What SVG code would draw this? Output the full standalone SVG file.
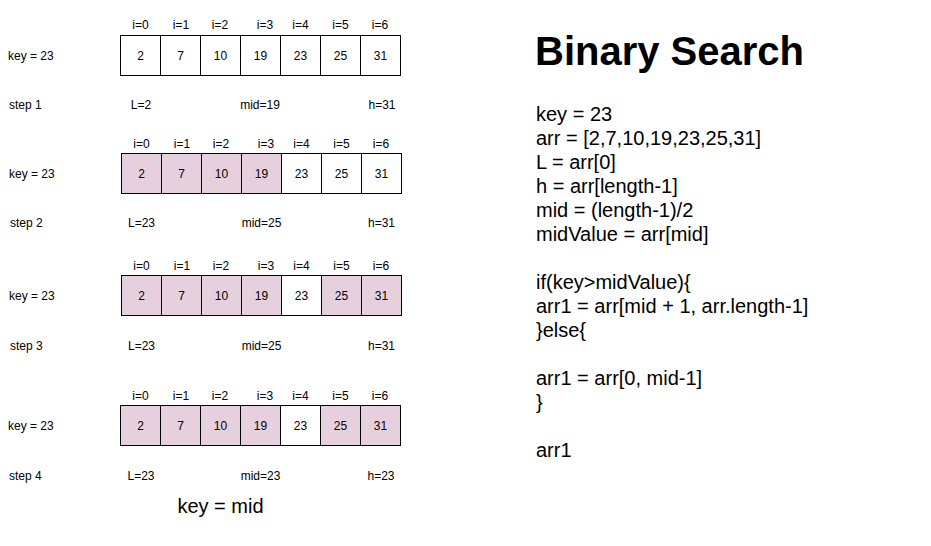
<svg xmlns="http://www.w3.org/2000/svg" width="931" height="546" viewBox="0 0 931 546">
<style>
text{font-family:"Liberation Sans",Arial,Helvetica,sans-serif;fill:#000}
.s{font-size:12px}
.c{text-anchor:middle}
.cell{fill:#fff;stroke:#000;stroke-width:1}
.hl{fill:#e6d0de}
.code{font-size:20px}
.title{font-size:40px;font-weight:bold}
</style>
<rect width="931" height="546" fill="#fff"/>

<g id="array1">
<g class="s c">
<text x="140.5" y="28.5">i=0</text><text x="181" y="28.5">i=1</text><text x="220" y="28.5">i=2</text><text x="265" y="28.5">i=3</text><text x="300.5" y="28.5">i=4</text><text x="340.5" y="28.5">i=5</text><text x="380" y="28.5">i=6</text>
</g>
<rect class="cell" x="120.5" y="35.5" width="40" height="40"/><rect class="cell" x="160.5" y="35.5" width="40" height="40"/><rect class="cell" x="200.5" y="35.5" width="40" height="40"/><rect class="cell" x="240.5" y="35.5" width="40" height="40"/><rect class="cell" x="280.5" y="35.5" width="40" height="40"/><rect class="cell" x="320.5" y="35.5" width="40" height="40"/><rect class="cell" x="360.5" y="35.5" width="40" height="40"/>
<g class="s c">
<text x="140.5" y="59.5">2</text><text x="180.5" y="59.5">7</text><text x="220.5" y="59.5">10</text><text x="260.5" y="59.5">19</text><text x="300.5" y="59.5">23</text><text x="340.5" y="59.5">25</text><text x="380.5" y="59.5">31</text>
</g>
<text class="s" x="8" y="59.5">key = 23</text>
<text class="s" x="9" y="108.5">step 1</text>
<text class="s c" x="141" y="108.5">L=2</text><text class="s c" x="260" y="108.5">mid=19</text><text class="s c" x="382" y="108.5">h=31</text>
</g>

<g id="array2">
<g class="s c">
<text x="141.5" y="147.5">i=0</text><text x="182" y="147.5">i=1</text><text x="221" y="147.5">i=2</text><text x="266" y="147.5">i=3</text><text x="301.5" y="147.5">i=4</text><text x="341.5" y="147.5">i=5</text><text x="381" y="147.5">i=6</text>
</g>
<rect class="cell hl" x="121.5" y="153.5" width="40" height="40"/><rect class="cell hl" x="161.5" y="153.5" width="40" height="40"/><rect class="cell hl" x="201.5" y="153.5" width="40" height="40"/><rect class="cell hl" x="241.5" y="153.5" width="40" height="40"/><rect class="cell" x="281.5" y="153.5" width="40" height="40"/><rect class="cell" x="321.5" y="153.5" width="40" height="40"/><rect class="cell" x="361.5" y="153.5" width="40" height="40"/>
<g class="s c">
<text x="141.5" y="177.5">2</text><text x="181.5" y="177.5">7</text><text x="221.5" y="177.5">10</text><text x="261.5" y="177.5">19</text><text x="301.5" y="177.5">23</text><text x="341.5" y="177.5">25</text><text x="381.5" y="177.5">31</text>
</g>
<text class="s" x="9" y="177.5">key = 23</text>
<text class="s" x="10" y="226.5">step 2</text>
<text class="s c" x="141.5" y="226.5">L=23</text><text class="s c" x="261.5" y="226.5">mid=25</text><text class="s c" x="381.5" y="226.5">h=31</text>
</g>

<g id="array3">
<g class="s c">
<text x="141.5" y="269.5">i=0</text><text x="182" y="269.5">i=1</text><text x="221" y="269.5">i=2</text><text x="266" y="269.5">i=3</text><text x="301.5" y="269.5">i=4</text><text x="341.5" y="269.5">i=5</text><text x="381" y="269.5">i=6</text>
</g>
<rect class="cell hl" x="121.5" y="275.5" width="40" height="40"/><rect class="cell hl" x="161.5" y="275.5" width="40" height="40"/><rect class="cell hl" x="201.5" y="275.5" width="40" height="40"/><rect class="cell hl" x="241.5" y="275.5" width="40" height="40"/><rect class="cell" x="281.5" y="275.5" width="40" height="40"/><rect class="cell hl" x="321.5" y="275.5" width="40" height="40"/><rect class="cell hl" x="361.5" y="275.5" width="40" height="40"/>
<g class="s c">
<text x="141.5" y="299.5">2</text><text x="181.5" y="299.5">7</text><text x="221.5" y="299.5">10</text><text x="261.5" y="299.5">19</text><text x="301.5" y="299.5">23</text><text x="341.5" y="299.5">25</text><text x="381.5" y="299.5">31</text>
</g>
<text class="s" x="9" y="299.5">key = 23</text>
<text class="s" x="10" y="349.5">step 3</text>
<text class="s c" x="141.5" y="349.5">L=23</text><text class="s c" x="261.5" y="349.5">mid=25</text><text class="s c" x="381.5" y="349.5">h=31</text>
</g>

<g id="array4">
<g class="s c">
<text x="140.5" y="399.5">i=0</text><text x="181" y="399.5">i=1</text><text x="220" y="399.5">i=2</text><text x="265" y="399.5">i=3</text><text x="300.5" y="399.5">i=4</text><text x="340.5" y="399.5">i=5</text><text x="380" y="399.5">i=6</text>
</g>
<rect class="cell hl" x="120.5" y="405.5" width="40" height="40"/><rect class="cell hl" x="160.5" y="405.5" width="40" height="40"/><rect class="cell hl" x="200.5" y="405.5" width="40" height="40"/><rect class="cell hl" x="240.5" y="405.5" width="40" height="40"/><rect class="cell" x="280.5" y="405.5" width="40" height="40"/><rect class="cell hl" x="320.5" y="405.5" width="40" height="40"/><rect class="cell hl" x="360.5" y="405.5" width="40" height="40"/>
<g class="s c">
<text x="140.5" y="429.5">2</text><text x="180.5" y="429.5">7</text><text x="220.5" y="429.5">10</text><text x="260.5" y="429.5">19</text><text x="300.5" y="429.5">23</text><text x="340.5" y="429.5">25</text><text x="380.5" y="429.5">31</text>
</g>
<text class="s" x="8" y="429.5">key = 23</text>
<text class="s" x="9" y="479.5">step 4</text>
<text class="s c" x="141" y="479.5">L=23</text><text class="s c" x="260.5" y="479.5">mid=23</text><text class="s c" x="381" y="479.5">h=23</text>
<text class="c" x="220.5" y="513" font-size="20">key = mid</text>
</g>

<g id="connectors"></g>

<g id="code">
<text class="title" x="535" y="65">Binary Search</text>
<g class="code">
<text x="536" y="121">key = 23</text>
<text x="536" y="145">arr = [2,7,10,19,23,25,31]</text>
<text x="536" y="169">L = arr[0]</text>
<text x="536" y="193">h = arr[length-1]</text>
<text x="536" y="217">mid = (length-1)/2</text>
<text x="536" y="241">midValue = arr[mid]</text>
<text x="536" y="289">if(key&gt;midValue){</text>
<text x="536" y="313">arr1 = arr[mid + 1, arr.length-1]</text>
<text x="536" y="337">}else{</text>
<text x="536" y="385">arr1 = arr[0, mid-1]</text>
<text x="536" y="409">}</text>
<text x="536" y="457">arr1</text>
</g>
</g>
</svg>
